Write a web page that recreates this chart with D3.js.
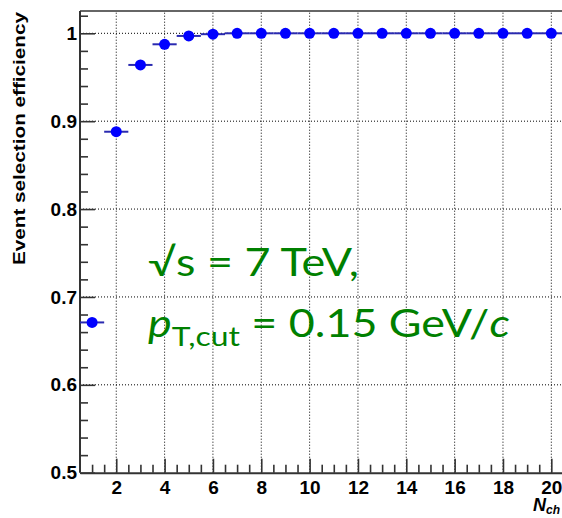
<!DOCTYPE html>
<html><head><meta charset="utf-8">
<script src="https://cdn.jsdelivr.net/npm/d3@7"></script>
<style>
html,body{margin:0;padding:0;background:#fff;}
svg{display:block;}
</style></head>
<body>
<svg id="c" width="562" height="518"></svg>
<script>
// ---- data ----
const nch = [1,2,3,4,5,6,7,8,9,10,11,12,13,14,15,16,17,18,19,20];
const efficiency = [0.671,0.888,0.964,0.9875,0.997,0.999,1.0,1.0,1.0,1.0,1.0,1.0,1.0,1.0,1.0,1.0,1.0,1.0,1.0,1.0];
const xTicks = [2,4,6,8,10,12,14,16,18,20];
const yTicks = [0.5,0.6,0.7,0.8,0.9,1];
const yLabel = "Event selection efficiency";

const svg = d3.select("#c");
const L = 80, B = 472.7, T = 11, R = 563.4;
const x = d3.scaleLinear().domain([0.5, 20.5]).range([L, R]);
const y = d3.scaleLinear().domain([0.5, 1.0]).range([B, 33.3]);

// grid
const g = svg.append("g");
g.selectAll(".gx").data(xTicks).join("line")
  .attr("x1", d => x(d)).attr("x2", d => x(d)).attr("y1", B).attr("y2", T)
  .attr("stroke", "#000").attr("stroke-width", 1).attr("stroke-dasharray", "1,2");
g.selectAll(".gy").data(yTicks.filter(d => d > 0.5)).join("line")
  .attr("x1", L).attr("x2", R).attr("y1", d => y(d)).attr("y2", d => y(d))
  .attr("stroke", "#000").attr("stroke-width", 1).attr("stroke-dasharray", "1,2");

// frame top
svg.append("line").attr("x1", L).attr("x2", R).attr("y1", T).attr("y2", T)
  .attr("stroke", "#666").attr("stroke-width", 2);

// axes
const axisFont = "'Liberation Sans', Arial, Helvetica, sans-serif";
const yAx = svg.append("g").attr("transform", `translate(${L},0)`)
  .call(d3.axisLeft(y).tickValues(yTicks).tickFormat(d => d === 1 ? "1" : d3.format(".1f")(d)).tickSize(-15).tickPadding(3));
const yMinor = d3.range(0.52, 1.021, 0.02).filter(v => Math.abs(v * 10 - Math.round(v * 10)) > 1e-6);
svg.append("g").attr("transform", `translate(${L},0)`)
  .call(d3.axisLeft(y).tickValues(yMinor).tickFormat("").tickSize(-8).tickSizeOuter(0))
  .call(s => s.select(".domain").remove());

const xAx = svg.append("g").attr("transform", `translate(0,${B})`)
  .call(d3.axisBottom(x).tickValues(xTicks).tickSize(-14).tickPadding(8).tickSizeOuter(0));
const xMinor = d3.range(1, 20.6, 0.5).filter(v => !xTicks.includes(v));
svg.append("g").attr("transform", `translate(0,${B})`)
  .call(d3.axisBottom(x).tickValues(xMinor).tickFormat("").tickSize(-8).tickSizeOuter(0))
  .call(s => s.select(".domain").remove());

svg.selectAll(".domain").attr("stroke", "#333").attr("stroke-width", 2);
svg.selectAll(".tick line").attr("stroke", "#333").attr("stroke-width", 1.6);
svg.selectAll(".tick text")
  .style("font-family", axisFont).style("font-weight", "bold")
  .style("font-size", "19px").attr("fill", "#000");
yAx.select(".domain").attr("d", `M0,${B}V${T}`);

// y title
svg.append("text").attr("transform", `translate(25,${(12 + 265) / 2}) rotate(-90)`)
  .attr("text-anchor", "middle")
  .style("font-family", axisFont).style("font-weight", "bold").style("font-size", "17px")
  .attr("textLength", 253).attr("lengthAdjust", "spacingAndGlyphs")
  .text(yLabel);

// x title
const xt = svg.append("text").attr("x", 533).attr("y", 511)
  .style("font-family", axisFont).style("font-weight", "bold").style("font-style", "italic").style("font-size", "18px");
xt.append("tspan").text("N");
xt.append("tspan").attr("dy", 3).style("font-size", "12px").text("ch");

// data: error bars + markers
const pts = nch.map((n, i) => ({ n, v: efficiency[i] }));
svg.append("g").selectAll("line").data(pts).join("line")
  .attr("x1", d => x(d.n - 0.5)).attr("x2", d => x(d.n + 0.5))
  .attr("y1", d => y(d.v)).attr("y2", d => y(d.v))
  .attr("stroke", "#2a2ab0").attr("stroke-width", 2);
svg.append("g").selectAll("circle").data(pts).join("circle")
  .attr("cx", d => x(d.n)).attr("cy", d => y(d.v)).attr("r", 5.5).attr("fill", "#0000ff");

// annotation (horizontally widened like the reference)
const annFont = "Lato, 'Open Sans', 'DejaVu Sans', sans-serif";
const ann = svg.append("g").attr("transform", "translate(148,0) scale(1.18,1)");
const t1 = ann.append("text").attr("x", 0).attr("y", 276)
  .style("font-family", annFont).style("font-size", "38px").attr("fill", "#008000").text("\u221As = 7 TeV,");
const t2 = ann.append("text").attr("x", 0).attr("y", 337)
  .style("font-family", annFont).style("font-size", "38px").attr("fill", "#008000");
t2.append("tspan").style("font-style", "italic").text("p");
t2.append("tspan").style("font-size", "27px").attr("dy", 9).text("T,cut");
t2.append("tspan").attr("dy", -9).text(" = 0.15 GeV/");
t2.append("tspan").style("font-style", "italic").text("c");
</script>
</body></html>
